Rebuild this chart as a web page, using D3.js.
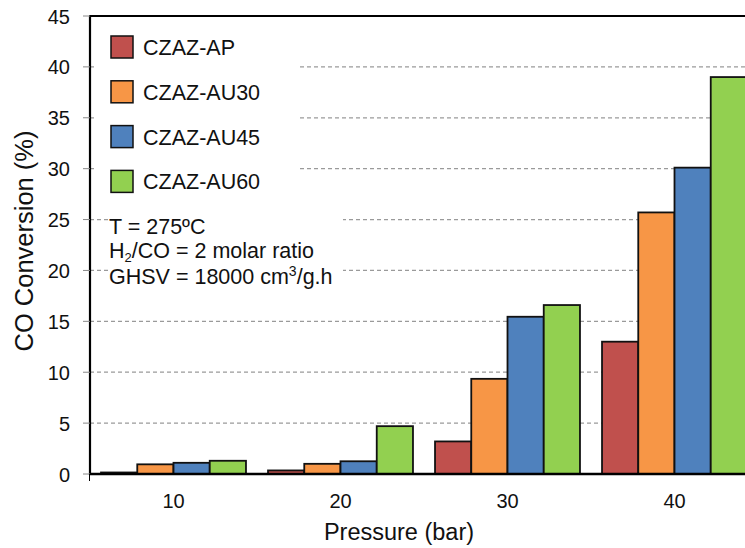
<!DOCTYPE html>
<html>
<head>
  <title>CO Conversion vs Pressure</title>
  <script src="https://cdn.jsdelivr.net/npm/d3@7/dist/d3.min.js"></script>
  <style>
    body { margin: 0; background: #fff; }
    svg { font-family: "Liberation Sans", Arial, sans-serif; display: block; }
    .grid line { stroke: #9a9a9a; stroke-dasharray: 4 3; stroke-width: 1.3px; }
    .tick-label { font-size: 20px; fill: #111; }
  </style>
</head>
<body>
<div id="chart"></div>
<script>
  // data
  const pressures = ['10', '20', '30', '40'];
  const catalysts = ['CZAZ-AP', 'CZAZ-AU30', 'CZAZ-AU45', 'CZAZ-AU60'];
  const colors = ['#C0504D', '#F79646', '#4F81BD', '#92D050'];
  const apValues = [0.15, 0.35, 3.2, 13.0];
  const au30Values = [0.95, 1.0, 9.35, 25.7];
  const au45Values = [1.1, 1.25, 15.45, 30.1];
  const au60Values = [1.3, 4.7, 16.6, 39.0];
  const yTicks = [0, 5, 10, 15, 20, 25, 30, 35, 40, 45];

  const series = [apValues, au30Values, au45Values, au60Values];

  const width = 745, height = 548;
  const plotLeft = 90, plotRight = 758, plotTop = 16, plotBottom = 474;

  const svg = d3.select('#chart').append('svg')
    .attr('width', width)
    .attr('height', height);

  const x0 = d3.scaleBand()
    .domain(pressures)
    .range([plotLeft, plotRight])
    .paddingInner(0.132)
    .paddingOuter(0.066);

  const x1 = d3.scaleBand()
    .domain(catalysts)
    .range([0, x0.bandwidth()]);

  const y = d3.scaleLinear()
    .domain([0, 45])
    .range([plotBottom, plotTop]);

  // dashed grid
  svg.append('g').attr('class', 'grid')
    .selectAll('line')
    .data(yTicks.filter(d => d > 0 && d < 45))
    .join('line')
    .attr('x1', plotLeft).attr('x2', width)
    .attr('y1', d => y(d)).attr('y2', d => y(d));

  // white boxes behind legend and note (they hide the grid like in the original)
  svg.append('rect').attr('x', 97).attr('y', 26).attr('width', 203).attr('height', 172).attr('fill', '#fff');
  svg.append('rect').attr('x', 108).attr('y', 205).attr('width', 235).attr('height', 85).attr('fill', '#fff');

  // bars
  const groups = svg.append('g').selectAll('g')
    .data(pressures)
    .join('g')
    .attr('transform', d => `translate(${x0(d)},0)`);

  groups.selectAll('rect')
    .data((p, i) => catalysts.map((c, k) => ({ c: c, v: series[k][i], color: colors[k] })))
    .join('rect')
    .attr('x', d => x1(d.c))
    .attr('y', d => y(d.v))
    .attr('width', x1.bandwidth())
    .attr('height', d => y(0) - y(d.v))
    .attr('fill', d => d.color)
    .attr('stroke', '#111')
    .attr('stroke-width', 1.8);

  // axes frame
  svg.append('line').attr('x1', plotLeft).attr('x2', plotLeft).attr('y1', plotTop).attr('y2', plotBottom + 1)
    .attr('stroke', '#000').attr('stroke-width', 2.2);
  svg.append('line').attr('x1', plotLeft - 1).attr('x2', width).attr('y1', plotBottom).attr('y2', plotBottom)
    .attr('stroke', '#000').attr('stroke-width', 2.5);
  svg.append('line').attr('x1', plotLeft - 1).attr('x2', width).attr('y1', plotTop).attr('y2', plotTop)
    .attr('stroke', '#000').attr('stroke-width', 2.2);

  // y ticks and labels
  const yAxis = svg.append('g');
  yAxis.selectAll('line')
    .data(yTicks)
    .join('line')
    .attr('x1', 83).attr('x2', plotLeft)
    .attr('y1', d => y(d)).attr('y2', d => y(d))
    .attr('stroke', '#888').attr('stroke-width', 1);
  yAxis.selectAll('text')
    .data(yTicks)
    .join('text')
    .attr('class', 'tick-label')
    .attr('x', 70)
    .attr('y', d => y(d) + 7.5)
    .attr('text-anchor', 'end')
    .text(d => d);

  // x tick at origin and labels
  svg.append('line').attr('x1', plotLeft - 0.5).attr('x2', plotLeft - 0.5).attr('y1', plotBottom).attr('y2', plotBottom + 7)
    .attr('stroke', '#000').attr('stroke-width', 1);
  svg.append('g').selectAll('text')
    .data(pressures)
    .join('text')
    .attr('class', 'tick-label')
    .attr('x', d => x0(d) + x0.bandwidth() / 2)
    .attr('y', 508)
    .attr('text-anchor', 'middle')
    .text(d => d);

  // axis titles
  svg.append('text')
    .attr('x', 399).attr('y', 540)
    .attr('text-anchor', 'middle')
    .attr('font-size', 23.5)
    .attr('fill', '#111')
    .text('Pressure (bar)');
  svg.append('text')
    .attr('transform', 'translate(33,241) rotate(-90)')
    .attr('text-anchor', 'middle')
    .attr('font-size', 25.5)
    .attr('fill', '#111')
    .text('CO Conversion (%)');

  // legend
  const legend = svg.append('g').selectAll('g')
    .data(catalysts)
    .join('g')
    .attr('transform', (d, i) => `translate(111,${36 + i * 44.8})`);
  legend.append('rect')
    .attr('width', 22).attr('height', 22)
    .attr('fill', (d, i) => colors[i])
    .attr('stroke', '#111').attr('stroke-width', 1.5);
  legend.append('text')
    .attr('x', 32).attr('y', 19)
    .attr('font-size', 21.5)
    .attr('fill', '#111')
    .text(d => d);

  // note
  const note = svg.append('g').attr('font-size', 21.5).attr('fill', '#111');
  note.append('text').attr('x', 109).attr('y', 234).text('T = 275ºC');
  const h2 = note.append('text').attr('x', 109).attr('y', 258);
  h2.append('tspan').text('H');
  h2.append('tspan').attr('font-size', 13).attr('dy', 4).text('2');
  h2.append('tspan').attr('dy', -4).text('/CO = 2 molar ratio');
  const gh = note.append('text').attr('x', 109).attr('y', 284);
  gh.append('tspan').text('GHSV = 18000 cm');
  gh.append('tspan').attr('font-size', 14).attr('dy', -8).text('3');
  gh.append('tspan').attr('dy', 8).text('/g.h');
</script>
</body>
</html>
